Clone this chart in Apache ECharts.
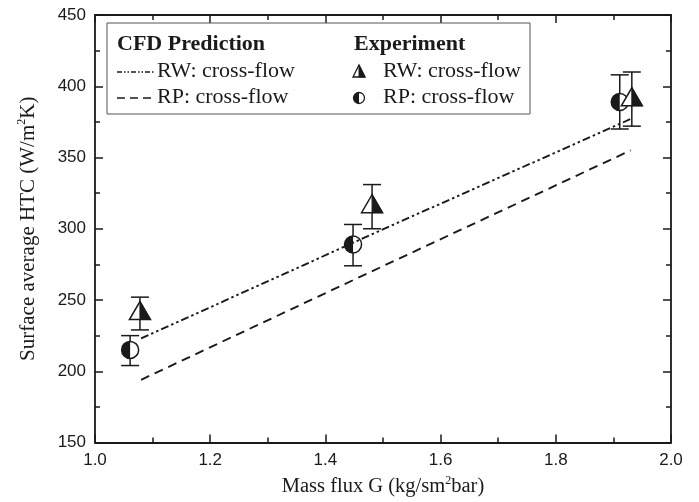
<!DOCTYPE html>
<html>
<head>
<meta charset="utf-8">
<script src="https://cdn.jsdelivr.net/npm/echarts@6/dist/echarts.min.js"></script>
<style>html,body{margin:0;padding:0;background:#fff;}#c{width:699px;height:502px;}</style>
</head>
<body>
<div id="c"></div>
<script>
// CFD prediction lines
const cfdG = [1.08, 1.48, 1.93];
const cfdRW = [223, 296, 377];
const cfdRP = [194, 270, 355];
// Experiment RW: cross-flow
const expRW_G = [1.078, 1.481, 1.932];
const expRW = [242, 317, 392];
const expRW_lo = [229, 300, 372];
const expRW_hi = [252, 331, 410];
// Experiment RP: cross-flow
const expRP_G = [1.061, 1.448, 1.911];
const expRP = [215, 289, 389];
const expRP_lo = [204, 274, 370];
const expRP_hi = [225, 303, 408];
// Axis ticks
const xTicks = [1.0, 1.2, 1.4, 1.6, 1.8, 2.0];
const yTicks = [150, 200, 250, 300, 350, 400, 450];

const INK = '#1a1a1a';
const SERIF = '"Liberation Serif", "Times New Roman", serif';
const SANS = '"Liberation Sans", Arial, sans-serif';

const chart = echarts.init(document.getElementById('c'), null, {renderer: 'canvas'});

function errBar(api, x, y, lo, hi) {
  const pl = api.coord([x, lo]);
  const ph = api.coord([x, hi]);
  const cw = 9;
  const st = {stroke: INK, lineWidth: 1.5};
  return [
    {type: 'line', shape: {x1: pl[0], y1: pl[1], x2: ph[0], y2: ph[1]}, style: st},
    {type: 'line', shape: {x1: pl[0] - cw, y1: pl[1], x2: pl[0] + cw, y2: pl[1]}, style: st},
    {type: 'line', shape: {x1: ph[0] - cw, y1: ph[1], x2: ph[0] + cw, y2: ph[1]}, style: st}
  ];
}
function triShape(cx, cy, w, h) {
  const top = cy - h * 0.55, base = cy + h * 0.45;
  return [
    {type: 'polygon', shape: {points: [[cx, top], [cx + w, base], [cx - w, base]]}, style: {fill: '#fff', stroke: INK, lineWidth: 1.5}},
    {type: 'polygon', shape: {points: [[cx, top], [cx + w, base], [cx, base]]}, style: {fill: INK, stroke: INK, lineWidth: 1}}
  ];
}
function circShape(cx, cy, r) {
  return [
    {type: 'circle', shape: {cx: cx, cy: cy, r: r}, style: {fill: '#fff', stroke: INK, lineWidth: 1.5}},
    {type: 'sector', shape: {cx: cx, cy: cy, r0: 0, r: r, startAngle: Math.PI / 2, endAngle: Math.PI * 3 / 2, clockwise: true}, style: {fill: INK}}
  ];
}

const rwData = expRW_G.map((g, i) => [g, expRW[i], expRW_lo[i], expRW_hi[i]]);
const rpData = expRP_G.map((g, i) => [g, expRP[i], expRP_lo[i], expRP_hi[i]]);

const axisCommon = {
  type: 'value',
  axisLine: {show: true, onZero: false, lineStyle: {color: INK, width: 1.8}},
  axisTick: {show: true, inside: true, length: 8, lineStyle: {color: INK, width: 1.5}},
  minorTick: {show: true, splitNumber: 2, length: 5, lineStyle: {color: INK, width: 1.5}},
  splitLine: {show: false},
  minorSplitLine: {show: false}
};

const supStyle = {fontFamily: SERIF, fontSize: 12, color: INK, verticalAlign: 'top', padding: [0, 0, 12, 0]};

const option = {
  backgroundColor: '#fff',
  animation: false,
  grid: {left: 95, right: 28, top: 15, bottom: 58, containLabel: false},
  xAxis: [
    Object.assign({}, axisCommon, {
      position: 'bottom', min: xTicks[0], max: xTicks[xTicks.length - 1], interval: 0.2,
      axisLabel: {show: true, color: INK, fontFamily: SANS, fontSize: 17, margin: 9, formatter: v => v.toFixed(1)},
      name: 'Mass flux G (kg/sm{sup|2}bar)', nameLocation: 'middle', nameGap: 32,
      nameTextStyle: {color: INK, fontFamily: SERIF, fontSize: 20.5, rich: {sup: supStyle}}
    }),
    Object.assign({}, axisCommon, {
      position: 'top', min: xTicks[0], max: xTicks[xTicks.length - 1], interval: 0.2,
      axisLabel: {show: false}
    })
  ],
  yAxis: [
    Object.assign({}, axisCommon, {
      position: 'left', min: yTicks[0], max: yTicks[yTicks.length - 1], interval: 50,
      axisLabel: {show: true, color: INK, fontFamily: SANS, fontSize: 17, margin: 9},
      name: 'Surface average HTC (W/m{sup|2}K)', nameLocation: 'middle', nameGap: 55,
      nameTextStyle: {color: INK, fontFamily: SERIF, fontSize: 21, rich: {sup: supStyle}}
    }),
    Object.assign({}, axisCommon, {
      position: 'right', min: yTicks[0], max: yTicks[yTicks.length - 1], interval: 50,
      axisLabel: {show: false}
    })
  ],
  series: [
    {
      name: 'CFD RW: cross-flow', type: 'line', xAxisIndex: 0, yAxisIndex: 0,
      data: cfdG.map((g, i) => [g, cfdRW[i]]), symbol: 'none', silent: true,
      lineStyle: {color: INK, width: 1.9, type: [8, 3, 2.5, 3, 2.5, 3]}
    },
    {
      name: 'CFD RP: cross-flow', type: 'line', xAxisIndex: 0, yAxisIndex: 0,
      data: cfdG.map((g, i) => [g, cfdRP[i]]), symbol: 'none', silent: true,
      lineStyle: {color: INK, width: 1.9, type: [9, 6]}
    },
    {
      name: 'Exp RP: cross-flow', type: 'custom', xAxisIndex: 0, yAxisIndex: 0,
      data: rpData, encode: {x: 0, y: [1, 2, 3]},
      renderItem: function (params, api) {
        const x = api.value(0), y = api.value(1);
        const p = api.coord([x, y]);
        return {type: 'group', children: errBar(api, x, y, api.value(2), api.value(3)).concat(circShape(p[0], p[1], 8.5))};
      }
    },
    {
      name: 'Exp RW: cross-flow', type: 'custom', xAxisIndex: 0, yAxisIndex: 0,
      data: rwData, encode: {x: 0, y: [1, 2, 3]},
      renderItem: function (params, api) {
        const x = api.value(0), y = api.value(1);
        const p = api.coord([x, y]);
        return {type: 'group', children: errBar(api, x, y, api.value(2), api.value(3)).concat(triShape(p[0], p[1], 10.5, 18))};
      }
    }
  ],
  graphic: [
    {type: 'rect', shape: {x: 107, y: 23, width: 423, height: 91}, style: {fill: '#fff', stroke: '#555', lineWidth: 1}, z: 10},
    {type: 'text', x: 117, y: 44, style: {text: 'CFD Prediction', font: 'bold 22px ' + SERIF, fill: INK, verticalAlign: 'middle'}, z: 11},
    {type: 'text', x: 354, y: 44, style: {text: 'Experiment', font: 'bold 22px ' + SERIF, fill: INK, verticalAlign: 'middle'}, z: 11},
    {type: 'line', shape: {x1: 117, y1: 72, x2: 154, y2: 72}, style: {stroke: INK, lineWidth: 1.4, lineDash: [5, 2, 1.5, 2, 1.5, 2]}, z: 11},
    {type: 'text', x: 157, y: 71, style: {text: 'RW: cross-flow', font: '22px ' + SERIF, fill: INK, verticalAlign: 'middle'}, z: 11},
    {type: 'line', shape: {x1: 117, y1: 98, x2: 154, y2: 98}, style: {stroke: INK, lineWidth: 1.4, lineDash: [8, 5]}, z: 11},
    {type: 'text', x: 157, y: 97, style: {text: 'RP: cross-flow', font: '22px ' + SERIF, fill: INK, verticalAlign: 'middle'}, z: 11},
    {type: 'polygon', shape: {points: [[359, 65], [365, 77], [353, 77]]}, style: {fill: '#fff', stroke: INK, lineWidth: 1.3}, z: 11},
    {type: 'polygon', shape: {points: [[359, 65], [365, 77], [359, 77]]}, style: {fill: INK, stroke: INK, lineWidth: 1}, z: 11},
    {type: 'circle', shape: {cx: 359, cy: 98, r: 5.5}, style: {fill: '#fff', stroke: INK, lineWidth: 1.3}, z: 11},
    {type: 'sector', shape: {cx: 359, cy: 98, r0: 0, r: 5.5, startAngle: Math.PI / 2, endAngle: Math.PI * 3 / 2, clockwise: true}, style: {fill: INK}, z: 11},
    {type: 'text', x: 383, y: 71, style: {text: 'RW: cross-flow', font: '22px ' + SERIF, fill: INK, verticalAlign: 'middle'}, z: 11},
    {type: 'text', x: 383, y: 97, style: {text: 'RP: cross-flow', font: '22px ' + SERIF, fill: INK, verticalAlign: 'middle'}, z: 11}
  ]
};
chart.setOption(option);
</script>
</body>
</html>
